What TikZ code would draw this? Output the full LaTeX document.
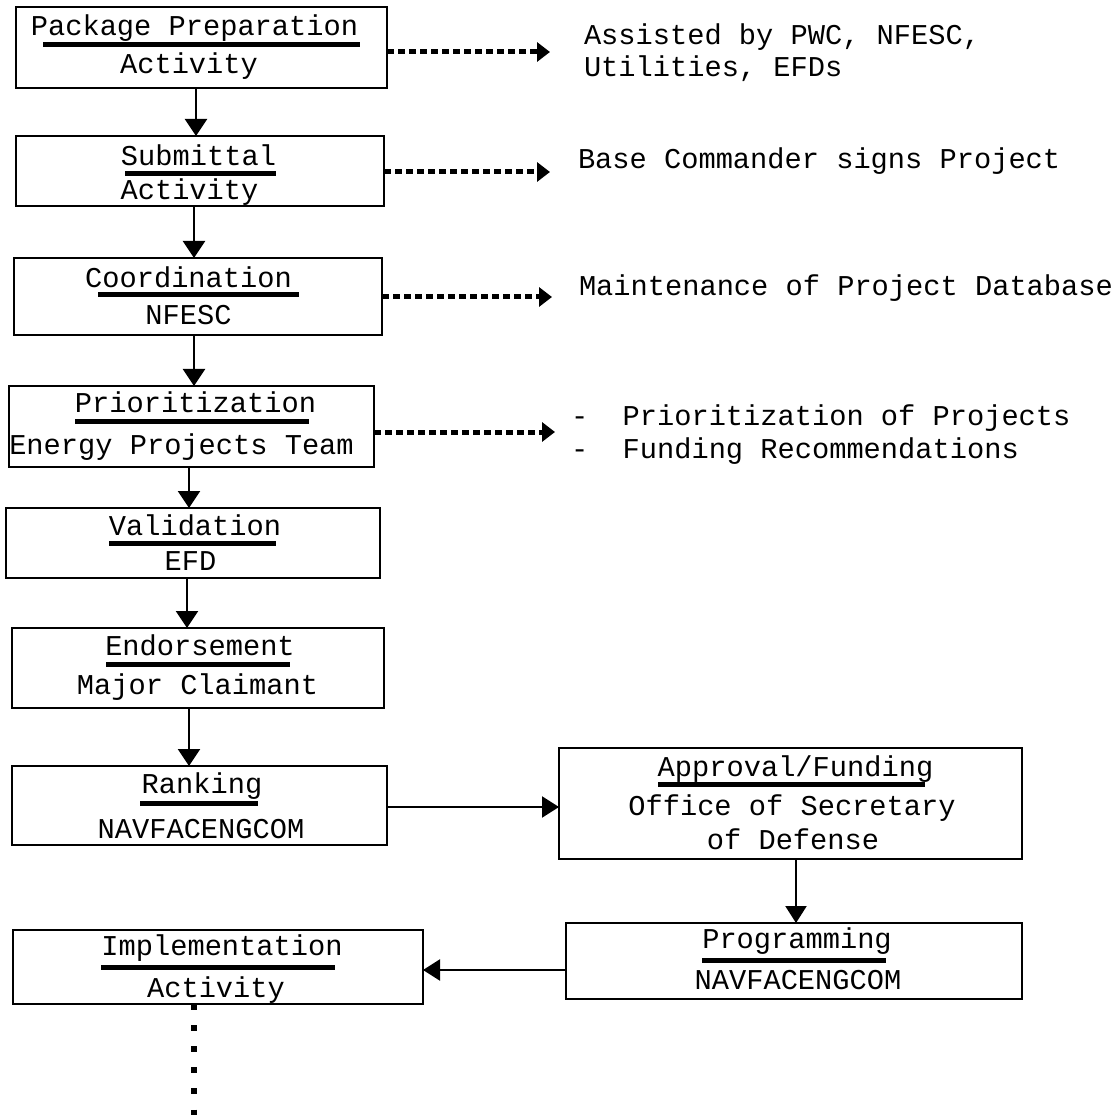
\documentclass[tikz,border=0pt]{standalone}
\usepackage{fontspec}
\setmainfont{Liberation Mono}
\usetikzlibrary{arrows.meta}
\begin{document}
\begin{tikzpicture}[x=1pt,y=-1pt,
 box/.style={draw,line width=2.3pt,rectangle,inner sep=0pt,outer sep=0pt},
 txt/.style={inner sep=0pt,outer sep=0pt,anchor=base,font=\fontsize{28.7}{32.5}\selectfont},
 rtxt/.style={txt,anchor=base west},
 bar/.style={line width=5pt},
 arr/.style={line width=2.5pt,-{Triangle[length=17pt,width=22pt]}},
 harr/.style={line width=2.2pt,-{Triangle[length=17pt,width=21pt]}},
 dotarr/.style={line width=5pt,dash pattern=on 7pt off 4pt,-{Triangle[length=13pt,width=19pt]}},
 dotln/.style={line width=5.5pt,dash pattern=on 5.5pt off 15.6pt},
]
\useasboundingbox (0,0) rectangle (1117,1115);

% boxes
\node[box,minimum width=371pt,minimum height=81pt] (b1) at (201.5,47.5) {};
\node[box,minimum width=368pt,minimum height=70pt] (b2) at (200,171) {};
\node[box,minimum width=368pt,minimum height=77pt] (b3) at (198,296.5) {};
\node[box,minimum width=365pt,minimum height=81pt] (b4) at (191.5,426.5) {};
\node[box,minimum width=374pt,minimum height=70pt] (b5) at (193,543) {};
\node[box,minimum width=372pt,minimum height=80pt] (b6) at (198,668) {};
\node[box,minimum width=375pt,minimum height=79pt] (b7) at (199.5,805.5) {};
\node[box,minimum width=463pt,minimum height=111pt] (b8) at (790.5,803.5) {};
\node[box,minimum width=456pt,minimum height=76pt] (b9) at (794,961) {};
\node[box,minimum width=410pt,minimum height=74pt] (b10) at (218,967) {};

% box texts
\node[txt] (t1a) at (194.5,36) {Package Preparation};
\node[txt] (t1b) at (189,74) {Activity};
\node[txt] (t2a) at (198.5,166) {Submittal};
\node[txt] (t2b) at (189.5,200) {Activity};
\node[txt] (t3a) at (188.5,288) {Coordination};
\node[txt] (t3b) at (188.5,325) {NFESC};
\node[txt] (t4a) at (195.5,413) {Prioritization};
\node[txt] (t4b) at (181.5,454) {Energy Projects Team};
\node[txt] (t5a) at (195,535) {Validation};
\node[txt] (t5b) at (190.5,570) {EFD};
\node[txt] (t6a) at (200,655) {Endorsement};
\node[txt] (t6b) at (197.5,694) {Major Claimant};
\node[txt] (t7a) at (202,793) {Ranking};
\node[txt] (t7b) at (201,838) {NAVFACENGCOM};
\node[txt] (t8a) at (795.5,776) {Approval/Funding};
\node[txt] (t8b) at (792,815) {Office of Secretary};
\node[txt] (t8c) at (793,849) {of Defense};
\node[txt] (t9a) at (797,948) {Programming};
\node[txt] (t9b) at (798,989) {NAVFACENGCOM};
\node[txt] (t10a) at (222,955) {Implementation};
\node[txt] (t10b) at (216,997) {Activity};

% underline bars
\draw[bar] (43,44.5) -- (360,44.5);
\draw[bar] (125,173.5) -- (276,173.5);
\draw[bar] (98,294.5) -- (299,294.5);
\draw[bar] (75,421.5) -- (309,421.5);
\draw[bar] (109,543.5) -- (276,543.5);
\draw[bar] (106,664.5) -- (290,664.5);
\draw[bar] (140,803) -- (258,803);
\draw[bar] (658,784.5) -- (925,784.5);
\draw[bar] (702,960) -- (886,960);
\draw[bar] (101,967) -- (335,967);

% right-hand notes
\node[rtxt] (r1a) at (584,45) {Assisted by PWC, NFESC,};
\node[rtxt] (r1b) at (584,77) {Utilities, EFDs};
\node[rtxt] (r2) at (578,169) {Base Commander signs Project};
\node[rtxt] (r3) at (579,296) {Maintenance of Project Database};
\node[rtxt] (r4a) at (571,425) {-~~Prioritization of Projects};
\node[rtxt] (r4b) at (571,458) {-~~Funding Recommendations};

% helper coordinates
\coordinate (x1) at (196,0);
\coordinate (x2) at (194,0);
\coordinate (x3) at (194,0);
\coordinate (x4) at (189,0);
\coordinate (x5) at (187,0);
\coordinate (x6) at (189,0);
\coordinate (x8) at (796,0);
\coordinate (y7) at (0,807);
\coordinate (y9) at (0,970);
\coordinate (d1) at (550,52);
\coordinate (d2) at (550,172);
\coordinate (d3) at (552,297);
\coordinate (d4) at (555,432);
\coordinate (dend) at (194,1116);

% vertical flow arrows
\draw[arr] (x1 |- b1.south) -- (x1 |- b2.north);
\draw[arr] (x2 |- b2.south) -- (x2 |- b3.north);
\draw[arr] (x3 |- b3.south) -- (x3 |- b4.north);
\draw[arr] (x4 |- b4.south) -- (x4 |- b5.north);
\draw[arr] (x5 |- b5.south) -- (x5 |- b6.north);
\draw[arr] (x6 |- b6.south) -- (x6 |- b7.north);
\draw[harr] (b7.east |- y7) -- (b8.west |- y7);
\draw[harr] (x8 |- b8.south) -- (x8 |- b9.north);
\draw[harr] (b9.west |- y9) -- (b10.east |- y9);

% dotted arrows
\draw[dotarr] (b1.east |- d1) -- (d1);
\draw[dotarr] (b2.east |- d2) -- (d2);
\draw[dotarr] (b3.east |- d3) -- (d3);
\draw[dotarr] (b4.east |- d4) -- (d4);
\draw[dotln] (dend |- b10.south) -- (dend);
\end{tikzpicture}
\end{document}
